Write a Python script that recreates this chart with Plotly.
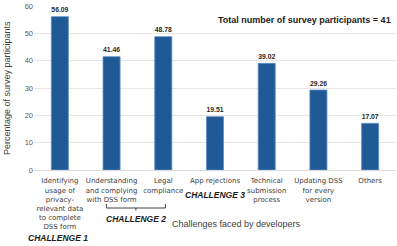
import plotly.graph_objects as go

categories = [
    "Identifying<br>usage of<br>privacy-<br>relevant data<br>to complete<br>DSS form",
    "Understanding<br>and complying<br>with DSS form",
    "Legal<br>compliance",
    "App rejections",
    "Technical<br>submission<br>process",
    "Updating DSS<br>for every<br>version",
    "Others",
]
values = [56.09, 41.46, 48.78, 19.51, 39.02, 29.26, 17.07]
value_labels = ["56.09", "41.46", "48.78", "19.51", "39.02", "29.26", "17.07"]
y_ticks = [0, 10, 20, 30, 40, 50, 60]

W, H = 397, 246
ml, mr, mt, mb = 34, 1, 6, 76
pw, ph = W - ml - mr, H - mt - mb

def px(x):
    return (x - ml) / pw

def py(y):
    return (H - mb - y) / ph

font = "Liberation Sans"
fig = go.Figure(go.Bar(
    x=list(range(len(categories))), y=values,
    marker=dict(color="#1f5a96", line=dict(color="#5b8fc9", width=0.8)),
    text=value_labels, texttemplate="<b>%{text}</b>", textposition="outside",
    textfont=dict(family=font, size=9, color="#262626"),
    cliponaxis=False, width=0.33,
))

fig.update_layout(
    width=W, height=H,
    margin=dict(l=ml, r=mr, t=mt, b=mb, autoexpand=False),
    paper_bgcolor="white", plot_bgcolor="white",
    showlegend=False,
    font=dict(family=font, color="#595959"),
)
fig.update_xaxes(
    tickmode="array", tickvals=list(range(len(categories))), ticktext=categories,
    range=[-0.5, len(categories) - 0.5], automargin=False,
    tickangle=0, tickfont=dict(family="DejaVu Sans", size=7, color="#404040"),
    ticklabelstandoff=4,
    showline=True, linecolor="#d9d9d9", linewidth=1, ticks="",
    showgrid=False,
)
fig.update_yaxes(
    range=[0, 60], tickvals=y_ticks, automargin=False,
    tickfont=dict(family=font, size=7.5, color="#595959"),
    showgrid=True, gridcolor="#e6e6e6", gridwidth=1, zeroline=False,
    ticks="", ticklen=0,
)

# bracket under challenge 2
yb_top, yb_bot = py(204), py(208)
fig.add_shape(type="line", xref="x", yref="paper", x0=0.9, x1=2.04, y0=yb_bot, y1=yb_bot,
              line=dict(color="#404040", width=1))
for xx in (0.9, 2.04):
    fig.add_shape(type="line", xref="x", yref="paper", x0=xx, x1=xx, y0=yb_top, y1=yb_bot,
                  line=dict(color="#404040", width=1))
fig.add_shape(type="line", xref="x", yref="paper", x0=1.47, x1=1.47, y0=yb_bot, y1=py(210.5),
              line=dict(color="#404040", width=1))

ann = [
    dict(text="Percentage of survey participants", x=px(7), y=py(88), textangle=-90,
         font=dict(size=9, color="#404040")),
    dict(text="<b>Total number of survey participants = 41</b>", x=px(304), y=py(20),
         font=dict(size=9, color="#1a1a1a")),
    dict(text="<b><i>CHALLENGE 1</i></b>", x=px(58), y=py(238), font=dict(size=8.5, color="#1a1a1a")),
    dict(text="<b><i>CHALLENGE 2</i></b>", x=px(136), y=py(219), font=dict(size=8.5, color="#1a1a1a")),
    dict(text="<b><i>CHALLENGE 3</i></b>", x=px(215), y=py(195), font=dict(size=8.5, color="#1a1a1a")),
    dict(text="Challenges faced by developers", x=px(236), y=py(224),
         font=dict(size=9, color="#404040")),
]
for a in ann:
    fig.add_annotation(xref="paper", yref="paper", showarrow=False,
                       xanchor="center", yanchor="middle", **a)

fig.write_html("out.html", config={"displayModeBar": False},
               post_script="document.body.style.margin='0';")
